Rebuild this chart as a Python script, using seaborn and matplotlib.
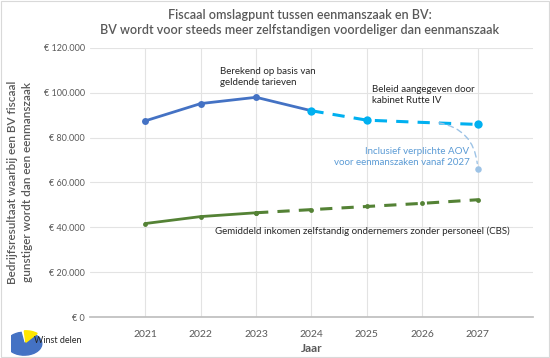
import numpy as np
import pandas as pd
import matplotlib
matplotlib.use("Agg")
import matplotlib.pyplot as plt
import seaborn as sns
from matplotlib.patches import Wedge
from matplotlib.ticker import FuncFormatter

# data
years_hist = [2021, 2022, 2023, 2024]
bv_hist = [87500, 95200, 98000, 92000]
years_plan = [2024, 2025, 2026, 2027]
bv_plan = [92000, 87800, 86800, 85900]
aov_year = [2027]
aov_value = [66000]
years_zzp_hist = [2021, 2022, 2023]
zzp_hist = [41700, 44800, 46500]
years_zzp_fut = [2023, 2024, 2025, 2026, 2027]
zzp_fut = [46500, 47900, 49300, 50700, 52300]
xticks = [2021, 2022, 2023, 2024, 2025, 2026, 2027]

sns.set_theme(style="white")
plt.rcParams['font.family'] = ['Lato', 'DejaVu Sans']

grey = "#595959"
blue = "#4472C4"
cyan = "#00B0F0"
light = "#9DC3E6"
green = "#548235"

fig = plt.figure(figsize=(5.5, 3.58), dpi=100)
fig.patch.set_facecolor("white")
ax = fig.add_axes([0.1636, 0.1145, 0.8054, 0.7515])

sns.lineplot(x=years_hist, y=bv_hist, ax=ax, color=blue, lw=2, marker="o",
             markersize=5, markeredgewidth=0)
sns.lineplot(x=years_plan, y=bv_plan, ax=ax, color=cyan, lw=2.2, marker="o",
             markersize=6, markeredgewidth=0, linestyle=(0, (4, 3)), markevery=[0, 1, 3])
sns.lineplot(x=years_zzp_hist, y=zzp_hist, ax=ax, color=green, lw=2, marker="o",
             markersize=3.5, markeredgewidth=0)
sns.lineplot(x=years_zzp_fut, y=zzp_fut, ax=ax, color=green, lw=2.2, marker="o",
             markersize=3.5, markeredgewidth=0, linestyle=(0, (4, 3)))
sns.scatterplot(x=aov_year, y=aov_value, ax=ax, color=light, s=22, linewidth=0, zorder=5)

# curved dashed connector for the AOV scenario
ax.annotate("", xy=(aov_year[0], aov_value[0] + 1200), xytext=(2026.25, bv_plan[2]),
            arrowprops=dict(arrowstyle="-", color=light, lw=1, linestyle=(0, (4, 3)),
                            connectionstyle="arc3,rad=-0.4"))

ax.set_xlim(2020, 2028)
ax.set_ylim(0, 120000)
ax.set_xticks(xticks)
ax.set_yticks(np.arange(0, 120001, 20000))
ax.yaxis.set_major_formatter(FuncFormatter(lambda v, p: "€ " + f"{int(v):,}".replace(",", ".")))
ax.grid(True, color="#E3E3E3", lw=0.8)
ax.set_axisbelow(True)
for s in ["top", "right", "left"]:
    ax.spines[s].set_visible(False)
ax.spines["bottom"].set_color("#BFBFBF")
ax.tick_params(axis="both", length=0, labelsize=6.5, colors=grey)
ax.tick_params(axis="x", pad=9, labelsize=7.5)

ax.set_xlabel("Jaar", fontsize=8.5, color=grey, fontweight="bold", labelpad=3)
ax.set_ylabel("Bedrijfsresultaat waarbij een BV fiscaal\ngunstiger wordt dan een eenmanszaak",
              fontsize=8.5, color=grey, fontweight="semibold", labelpad=8, linespacing=1.45)

fig.suptitle("Fiscaal omslagpunt tussen eenmanszaak en BV:\nBV wordt voor steeds meer zelfstandigen voordeliger dan eenmanszaak",
             x=0.545, y=0.975, fontsize=9, color=grey, fontweight="semibold", linespacing=1.3)

ax.text(2022.35, 102500, "Berekend op basis van\ngeldende tarieven", fontsize=7,
        color="#262626", va="bottom", ha="left", linespacing=1.3)
ax.text(2025.1, 94500, "Beleid aangegeven door\nkabinet Rutte IV", fontsize=7,
        color="#262626", va="bottom", ha="left", linespacing=1.3)
ax.text(2026.85, 66800, "Inclusief verplichte AOV\nvoor eenmanszaken vanaf 2027", fontsize=7,
        color="#5B9BD5", va="bottom", ha="right", linespacing=1.3)
ax.text(2022.25, 40200, "Gemiddeld inkomen zelfstandig ondernemers zonder personeel (CBS)",
        fontsize=7, color="#262626", va="top", ha="left")

# small logo in the corner
logo = fig.add_axes([0.02, 0.0, 0.2, 0.1])
logo.set_xlim(0, 10)
logo.set_ylim(0, 5)
logo.axis("off")
logo.add_patch(Wedge((1.2, 2.0), 1.6, 100, 410, color="#4472C4"))
logo.add_patch(Wedge((1.35, 2.2), 1.6, 50, 95, color="#FFE600"))
logo.text(2.1, 2.4, "Winst delen", fontsize=6.5, color="#262626", va="center")

fig.patches.append(plt.Rectangle((0.002, 0.003), 0.996, 0.994, transform=fig.transFigure,
                                 fill=False, edgecolor="#D9D9D9", lw=0.8))

fig.savefig("out.png", dpi=100)
